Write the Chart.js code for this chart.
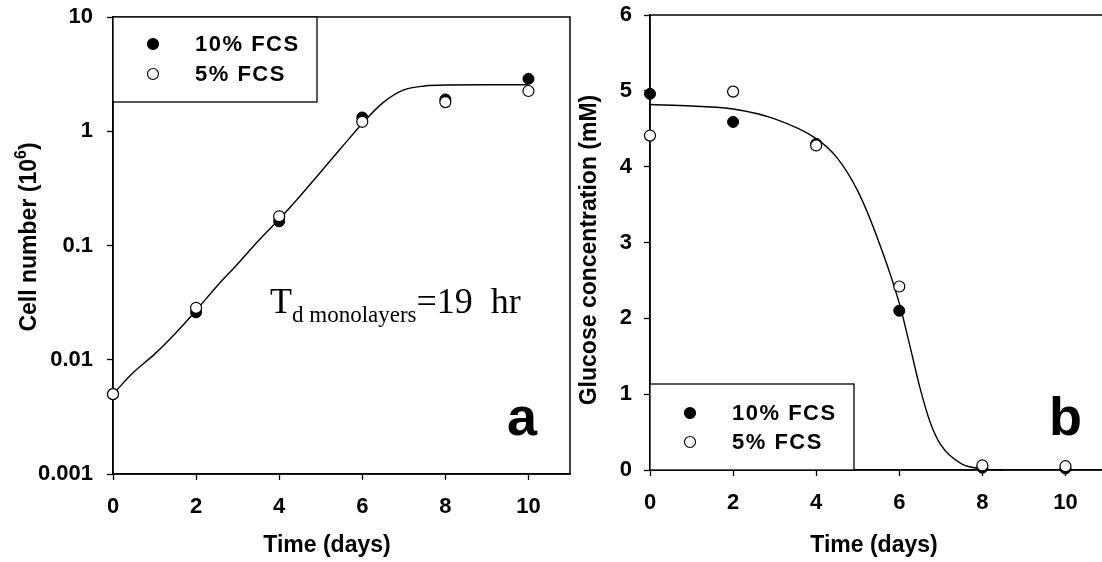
<!DOCTYPE html>
<html>
<head>
<meta charset="utf-8">
<script src="https://cdn.jsdelivr.net/npm/chart.js@4.4.1/dist/chart.umd.min.js"></script>
<style>
  html, body { margin:0; padding:0; background:#fff; overflow:hidden; width:1102px; height:562px; }
  canvas { position:absolute; top:0; }
  #cA { left:0; }
  #cB { left:575px; }
</style>
</head>
<body>
<canvas id="cA" width="580" height="562"></canvas>
<canvas id="cB" width="540" height="562"></canvas>
<script>
// ---------- Panel a : cell number ----------
const days = [0, 2, 4, 6, 8, 10];
const cells10 = [0.0050, 0.026, 0.163, 1.32, 1.90, 2.88];
const cells5  = [0.0050, 0.0285, 0.180, 1.21, 1.80, 2.25];
const fitCellDays = [0, 0.5, 1, 1.5, 2, 2.5, 3, 3.5, 4, 4.5, 5, 5.5, 6, 6.5, 7, 7.5, 8, 9, 10];
const fitCellVals = [0.0050, 0.0078, 0.0112, 0.017, 0.027, 0.044, 0.069, 0.11, 0.17, 0.27, 0.44, 0.72, 1.17, 1.78, 2.3, 2.49, 2.54, 2.55, 2.55];
const cellTicks = [0.001, 0.01, 0.1, 1, 10];
const cellTickLabels = ['0.001', '0.01', '0.1', '1', '10'];

// ---------- Panel b : glucose ----------
const gluc10 = [4.96, 4.59, 4.30, 2.10, 0.03, 0.02];
const gluc5  = [4.41, 4.99, 4.28, 2.42, 0.06, 0.05];
const fitGlucDays = [0, 1, 2, 3, 4, 4.5, 5, 5.5, 6, 6.25, 6.5, 6.75, 7, 7.5, 8, 8.5];
const fitGlucVals = [4.82, 4.80, 4.76, 4.63, 4.37, 4.12, 3.68, 3.02, 2.2, 1.65, 1.08, 0.62, 0.33, 0.08, 0.015, 0.0];
const dayTicks = [0, 2, 4, 6, 8, 10];

const seriesNames = ['10% FCS', '5% FCS'];
const xTitle = 'Time (days)';
const yTitleA = ['Cell number (10', '6', ')'];
const yTitleB = 'Glucose concentration (mM)';

const SANS = '"Liberation Sans", Arial, sans-serif';
const SERIF = '"Liberation Serif", "Times New Roman", serif';
Chart.defaults.font.family = SANS;
Chart.defaults.color = '#000';

function pts(xs, ys) { return xs.map((x, i) => ({x: x, y: ys[i]})); }

function dsets(xFit, yFit, y10, y5) {
  return [
    { label: 'fit', data: pts(xFit, yFit), showLine: true, pointRadius: 0, borderColor: '#000',
      borderWidth: 1.4, cubicInterpolationMode: 'monotone', clip: false, order: 3 },
    { label: seriesNames[0], data: pts(days, y10), pointRadius: 5.5, pointBackgroundColor: '#000',
      pointBorderColor: '#000', pointBorderWidth: 1, clip: false, order: 2 },
    { label: seriesNames[1], data: pts(days, y5), pointRadius: 5.5, pointBackgroundColor: '#fff',
      pointBorderColor: '#000', pointBorderWidth: 1.2, clip: false, order: 1 }
  ];
}

const tickFont = { family: SANS, size: 22, weight: 'bold' };

function xScale(h) {
  return {
    type: 'linear', min: 0, max: 11,
    afterBuildTicks: s => { s.ticks = s.ticks.filter(t => dayTicks.includes(t.value)); },
    afterFit: s => { s.height = h; s.paddingLeft = 0; s.paddingRight = 0; },
    ticks: { stepSize: 2, font: tickFont, color: '#000', padding: 14, maxRotation: 0 },
    grid: { drawOnChartArea: false, drawTicks: true, tickLength: 6, tickWidth: 1.3, tickColor: '#000' },
    border: { display: true, color: '#000', width: 1.5 }
  };
}

function panelPlugin(opts) {
  return {
    id: 'panel' + opts.tag,
    beforeDatasetsDraw(chart) {
      const ctx = chart.ctx, a = chart.chartArea;
      ctx.save();
      ctx.strokeStyle = '#000'; ctx.lineWidth = 1.5;
      ctx.strokeRect(a.left, a.top, a.right - a.left, a.bottom - a.top);
      const L = opts.legend;
      ctx.fillStyle = '#fff';
      ctx.fillRect(a.left, L.top, L.right - a.left, L.bottom - L.top);
      ctx.lineWidth = 1.3;
      ctx.strokeRect(a.left, L.top, L.right - a.left, L.bottom - L.top);
      ctx.restore();
    },
    afterDraw(chart) {
      const ctx = chart.ctx;
      const L = opts.legend;
      ctx.save();
      const ds = chart.data.datasets;
      [1, 2].forEach((k, i) => {
        const y = L.rows[i];
        ctx.beginPath();
        ctx.arc(L.mx, y, 5.5, 0, Math.PI * 2);
        ctx.fillStyle = ds[k].pointBackgroundColor; ctx.fill();
        ctx.lineWidth = 1.2; ctx.strokeStyle = '#000'; ctx.stroke();
        ctx.fillStyle = '#000';
        ctx.font = 'bold 22px ' + SANS;
        ctx.textBaseline = 'middle'; ctx.textAlign = 'left';
        if ('letterSpacing' in ctx) ctx.letterSpacing = '1.5px';
        ctx.fillText(ds[k].label, L.tx, y + 1);
        if ('letterSpacing' in ctx) ctx.letterSpacing = '0px';
      });
      // axis titles
      ctx.fillStyle = '#000';
      ctx.font = 'bold 23px ' + SANS;
      ctx.textAlign = 'center'; ctx.textBaseline = 'alphabetic';
      ctx.fillText(xTitle, opts.xTitleX, 552);
      ctx.save();
      ctx.translate(opts.yTitleX, opts.yTitleY);
      ctx.rotate(-Math.PI / 2);
      ctx.textBaseline = 'middle';
      if (Array.isArray(opts.yTitle)) {
        const [p1, sup, p3] = opts.yTitle;
        ctx.font = 'bold 23px ' + SANS;
        const w1 = ctx.measureText(p1).width, w3 = ctx.measureText(p3).width;
        ctx.font = 'bold 16px ' + SANS;
        const w2 = ctx.measureText(sup).width;
        let x = -(w1 + w2 + w3) / 2;
        ctx.textAlign = 'left';
        ctx.font = 'bold 23px ' + SANS;
        ctx.fillText(p1, x, 0); x += w1;
        ctx.font = 'bold 16px ' + SANS;
        ctx.fillText(sup, x, -8); x += w2;
        ctx.font = 'bold 23px ' + SANS;
        ctx.fillText(p3, x, 0);
      } else {
        ctx.fillText(opts.yTitle, 0, 0);
      }
      ctx.restore();
      // panel letter
      ctx.font = 'bold 54px ' + SANS;
      ctx.textAlign = 'left'; ctx.textBaseline = 'alphabetic';
      ctx.fillText(opts.letter, opts.letterX, 435);
      if (opts.extra) opts.extra(ctx);
      ctx.restore();
    }
  };
}

// Panel a
new Chart(document.getElementById('cA'), {
  type: 'scatter',
  data: { datasets: dsets(fitCellDays, fitCellVals, cells10, cells5) },
  options: {
    responsive: false, animation: false, devicePixelRatio: 1,
    layout: { padding: { top: 17, right: 10, left: 0, bottom: 0 } },
    plugins: { legend: { display: false }, tooltip: { enabled: false } },
    scales: {
      x: xScale(88),
      y: {
        type: 'logarithmic', min: 0.001, max: 10,
        afterBuildTicks: s => { s.ticks = cellTicks.map(v => ({ value: v, major: true })); },
        afterFit: s => { s.width = 113; s.paddingTop = 0; s.paddingBottom = 0; },
        ticks: { font: tickFont, color: '#000', padding: 14,
                 callback: v => { const i = cellTicks.findIndex(t => Math.abs(t - v) < t * 1e-6); return i >= 0 ? cellTickLabels[i] : ''; } },
        grid: { drawOnChartArea: false, drawTicks: true, tickLength: 6, tickWidth: 1.3, tickColor: '#000' },
        border: { display: true, color: '#000', width: 1.5 }
      }
    }
  },
  plugins: [panelPlugin({
    tag: 'A', letter: 'a', letterX: 507, xTitleX: 327, yTitle: yTitleA, yTitleX: 30, yTitleY: 237,
    legend: { top: 17, bottom: 102, right: 317, mx: 153, tx: 195, rows: [44, 74] },
    extra: ctx => {
      ctx.fillStyle = '#000';
      ctx.textAlign = 'left'; ctx.textBaseline = 'alphabetic';
      let x = 270;
      ctx.font = '36px ' + SERIF;
      ctx.fillText('T', x, 313); x += ctx.measureText('T').width;
      ctx.font = '23px ' + SERIF;
      ctx.fillText('d monolayers', x, 322); x += ctx.measureText('d monolayers').width;
      ctx.font = '36px ' + SERIF;
      ctx.fillText('=19  hr', x, 313);
    }
  })]
});

// Panel b
new Chart(document.getElementById('cB'), {
  type: 'scatter',
  data: { datasets: dsets(fitGlucDays, fitGlucVals, gluc10, gluc5) },
  options: {
    responsive: false, animation: false, devicePixelRatio: 1,
    layout: { padding: { top: 15, right: 8, left: 0, bottom: 0 } },
    plugins: { legend: { display: false }, tooltip: { enabled: false } },
    scales: {
      x: xScale(92),
      y: {
        type: 'linear', min: 0, max: 6,
        afterFit: s => { s.width = 75; s.paddingTop = 0; s.paddingBottom = 0; },
        ticks: { stepSize: 1, font: tickFont, color: '#000', padding: 12 },
        grid: { drawOnChartArea: false, drawTicks: true, tickLength: 6, tickWidth: 1.3, tickColor: '#000' },
        border: { display: true, color: '#000', width: 1.5 }
      }
    }
  },
  plugins: [panelPlugin({
    tag: 'B', letter: 'b', letterX: 1049 - 575, xTitleX: 874 - 575, yTitle: yTitleB, yTitleX: 590 - 575, yTitleY: 250,
    legend: { top: 384, bottom: 470, right: 854 - 575, mx: 690 - 575, tx: 732 - 575, rows: [413, 442] }
  })]
});
</script>
</body>
</html>
